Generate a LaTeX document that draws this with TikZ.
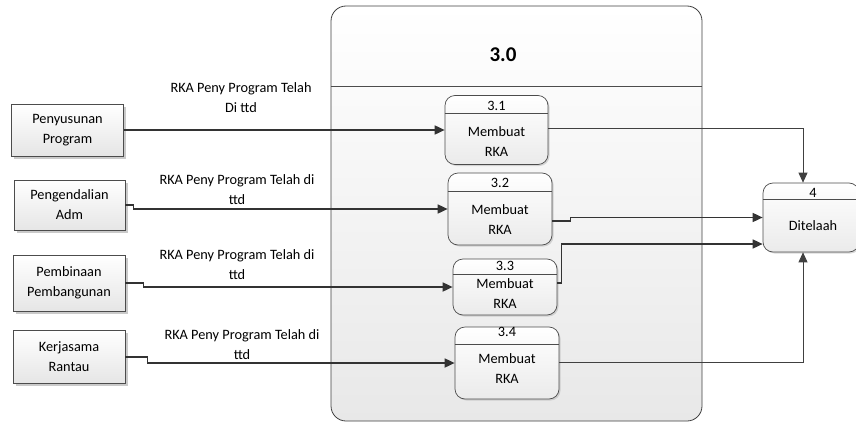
\documentclass[tikz,border=0pt]{standalone}
\usepackage{fontspec}
\setmainfont{Carlito}
\usetikzlibrary{arrows.meta,shadows,calc}
\begin{document}
\begin{tikzpicture}[x=1pt,y=-1pt,
  font=\fontsize{14.3}{20}\selectfont,
  entity/.style={draw=black!70, line width=0.7pt, top color=white, bottom color=black!10,
    drop shadow={shadow xshift=2.5pt, shadow yshift=-2.5pt, fill=black!35, opacity=0.6},
    align=center, inner sep=0pt},
  procbox/.style={draw=black!70, line width=0.7pt, rounded corners=10pt, top color=white, bottom color=black!8,
    drop shadow={shadow xshift=1.5pt, shadow yshift=-1.5pt, fill=black!30, opacity=0.5},
    inner sep=0pt},
  txt/.style={align=center, inner sep=0pt},
  inarr/.style={draw=black!80, line width=1.7pt, -{Triangle[length=10pt,width=9pt]}},
  outthin/.style={draw=black!75, line width=0.8pt, -{Triangle[length=10pt,width=9pt]}},
  outmid/.style={draw=black!80, line width=1.6pt, -{Triangle[length=10pt,width=9pt]}},
]
\useasboundingbox (0,0) rectangle (856,423);
% container
\node[draw=black!75, line width=0.8pt, rounded corners=15pt, top color=white, bottom color=black!9,
  minimum width=371pt, minimum height=415pt, inner sep=0pt] (box) at (516.5,213.5) {};
\draw[black!70, line width=0.8pt] (box.west |- 0,86) coordinate (hl) -- (box.east |- 0,86) coordinate (hr);
\node[txt, font=\fontsize{21}{24}\selectfont\bfseries] (t30) at (503,55) {3.0};

% external entities
\node[entity, minimum width=112pt, minimum height=52pt] (e1) at (67.5,130) {Penyusunan\\Program};
\node[entity, minimum width=111pt, minimum height=50pt] (e2) at (69.5,205) {Pengendalian\\Adm};
\node[entity, minimum width=112pt, minimum height=56pt] (e3) at (69,283) {Pembinaan\\Pembangunan};
\node[entity, minimum width=112pt, minimum height=53pt] (e4) at (69,357) {Kerjasama\\Rantau};

% processes
\node[procbox, minimum width=103pt, minimum height=69pt] (p31) at (496.5,130) {};
\draw[black!70, line width=0.7pt] ([yshift=-18pt]p31.north west) -- ([yshift=-18pt]p31.north east);
\node[txt] (n31) at (496.5,106) {3.1};
\node[txt] (m31) at (496.5,142) {Membuat\\RKA};

\node[procbox, minimum width=104pt, minimum height=72pt] (p32) at (500,209) {};
\draw[black!70, line width=0.7pt] ([yshift=-19pt]p32.north west) -- ([yshift=-19pt]p32.north east);
\node[txt] (n32) at (500,182.5) {3.2};
\node[txt] (m32) at (500,220) {Membuat\\RKA};

\node[procbox, minimum width=104pt, minimum height=56pt] (p33) at (505,287) {};
\draw[black!70, line width=0.7pt] ([yshift=-16pt]p33.north west) -- ([yshift=-16pt]p33.north east);
\node[txt] (n33) at (505,266) {3.3};
\node[txt] (m33) at (505,294) {Membuat\\RKA};

\node[procbox, minimum width=104pt, minimum height=72pt] (p34) at (507,363) {};
\draw[black!70, line width=0.7pt] ([yshift=-18pt]p34.north west) -- ([yshift=-18pt]p34.north east);
\node[txt] (n34) at (507,332) {3.4};
\node[txt] (m34) at (507,369) {Membuat\\RKA};

\node[procbox, minimum width=96pt, minimum height=69pt] (p4) at (811,217.5) {};
\draw[black!70, line width=0.7pt] ([yshift=-17pt]p4.north west) -- ([yshift=-17pt]p4.north east);
\node[txt] (n4) at (813,192.5) {4};
\node[txt] (m4) at (813,226) {Ditelaah};

% labels
\node[txt] (l1) at (241,98) {RKA Peny Program Telah\\Di ttd};
\node[txt] (l2) at (237,190) {RKA Peny Program Telah di\\ttd};
\node[txt] (l3) at (237,265) {RKA Peny Program Telah di\\ttd};
\node[txt] (l4) at (242,345) {RKA Peny Program Telah di\\ttd};

% input flows
\draw[inarr] (e1.east) -- (p31.west);
\draw[inarr] (e2.east) -- ++(8,0) |- (p32.west);
\draw[inarr] (e3.east) -- ++(18,0) |- (p33.west);
\draw[inarr] (e4.east) -- ++(22,0) |- (p34.west);

% output flows
\draw[outthin] ([yshift=2pt]p31.east) -| ([xshift=-8pt]p4.north);
\draw[outmid] ([yshift=-12pt]p32.east) -- ++(18,0) |- (p4.west);
\draw[outmid] ([yshift=4pt]p33.east) -- ++(4,0) |- ([yshift=-26.5pt]p4.west);
\draw[outthin] ([yshift=1pt]p34.east) -| ([xshift=-8pt]p4.south);
\end{tikzpicture}
\end{document}
